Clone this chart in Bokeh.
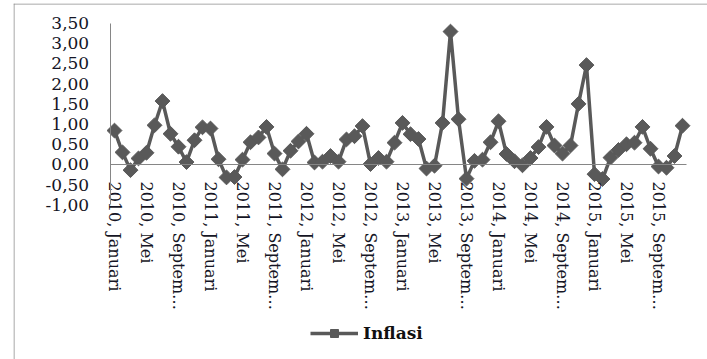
import math
from bokeh.plotting import figure
from bokeh.models import Range1d, FixedTicker, Legend, LegendItem, LinearAxis, Span
from bokeh.embed import file_html
from bokeh.resources import INLINE

years = [2010, 2011, 2012, 2013, 2014, 2015]
month_names = ["Januari", "Februari", "Maret", "April", "Mei", "Juni", "Juli",
               "Agustus", "September", "Oktober", "November", "Desember"]
periods = [f"{y}, {m}" for y in years for m in month_names]

inflasi = [
    0.84, 0.30, -0.14, 0.15, 0.29, 0.97, 1.57, 0.76, 0.44, 0.06, 0.60, 0.92,
    0.89, 0.13, -0.32, -0.31, 0.12, 0.55, 0.67, 0.93, 0.27, -0.12, 0.34, 0.57,
    0.76, 0.05, 0.07, 0.21, 0.07, 0.62, 0.70, 0.95, 0.01, 0.16, 0.07, 0.54,
    1.03, 0.75, 0.63, -0.10, -0.03, 1.03, 3.29, 1.12, -0.35, 0.09, 0.12, 0.55,
    1.07, 0.26, 0.08, -0.02, 0.16, 0.43, 0.93, 0.47, 0.27, 0.47, 1.50, 2.46,
    -0.24, -0.36, 0.17, 0.36, 0.50, 0.54, 0.93, 0.39, -0.05, -0.08, 0.21, 0.96,
]

x_ticks = list(range(0, 72, 4))
x_tick_labels = [
    "2010, Januari", "2010, Mei", "2010, Septem\u2026",
    "2011, Januari", "2011, Mei", "2011, Septem\u2026",
    "2012, Januari", "2012, Mei", "2012, Septem\u2026",
    "2013, Januari", "2013, Mei", "2013, Septem\u2026",
    "2014, Januari", "2014, Mei", "2014, Septem\u2026",
    "2015, Januari", "2015, Mei", "2015, Septem\u2026",
]
y_ticks = [-1.0, -0.5, 0.0, 0.5, 1.0, 1.5, 2.0, 2.5, 3.0, 3.5]
y_tick_labels = ["-1,00", "-0,50", "0,00", "0,50", "1,00", "1,50",
                 "2,00", "2,50", "3,00", "3,50"]

xs = list(range(len(inflasi)))

p = figure(width=707, height=359,
           x_range=Range1d(-12.625, 74.125), y_range=Range1d(-4.827, 3.985),
           output_backend="svg", toolbar_location=None,
           x_axis_location=None, y_axis_location=None,
           min_border_left=13, min_border_top=3,
           min_border_right=0, min_border_bottom=0)
p.outline_line_alpha = 0
p.background_fill_color = "white"
p.border_fill_color = "white"
p.xgrid.visible = False
p.ygrid.visible = False

border_color = "#8c8c8c"
p.add_layout(Span(location=-12.5625, dimension="height",
                  line_color=border_color, line_width=1))
p.add_layout(Span(location=3.973, dimension="width",
                  line_color=border_color, line_width=1))

font = "DejaVu Serif"
axis_color = "#868686"

yaxis = LinearAxis(fixed_location=-0.54, bounds=(-1, 3.5),
                   ticker=FixedTicker(ticks=y_ticks),
                   major_label_overrides=dict(zip(y_ticks, y_tick_labels)),
                   major_tick_out=0, major_tick_in=0,
                   minor_tick_out=0, minor_tick_in=0,
                   axis_line_color=axis_color,
                   major_label_text_font=font,
                   major_label_text_font_size="17px",
                   major_label_text_color="#151525",
                   major_label_standoff=21)
p.add_layout(yaxis, "left")

xaxis = LinearAxis(fixed_location=0, bounds=(-0.5, 71.5),
                   ticker=FixedTicker(ticks=x_ticks),
                   major_label_overrides=dict(zip(x_ticks, x_tick_labels)),
                   major_label_orientation="vertical",
                   major_tick_out=0, major_tick_in=0,
                   minor_tick_out=0, minor_tick_in=0,
                   axis_line_color=axis_color,
                   major_label_text_font=font,
                   major_label_text_font_size="16px",
                   major_label_text_color="#151525",
                   major_label_standoff=17)
p.add_layout(xaxis, "below")

line_color = "#595959"
ln = p.line(xs, inflasi, line_color=line_color, line_width=3.5)
sc = p.scatter(xs, inflasi, marker="square", angle=math.pi / 4, size=10.5,
               fill_color=line_color, line_color=line_color)

legend = Legend(items=[LegendItem(label="Inflasi", renderers=[ln, sc])],
                location=(297, 16), padding=0, margin=0,
                glyph_width=48, glyph_height=20, label_standoff=5,
                border_line_alpha=0, background_fill_alpha=0,
                label_text_font=font, label_text_font_style="bold",
                label_text_font_size="17px", label_text_color="#111111")
p.add_layout(legend, "center")

open("out.html", "w").write(file_html(p, INLINE))
